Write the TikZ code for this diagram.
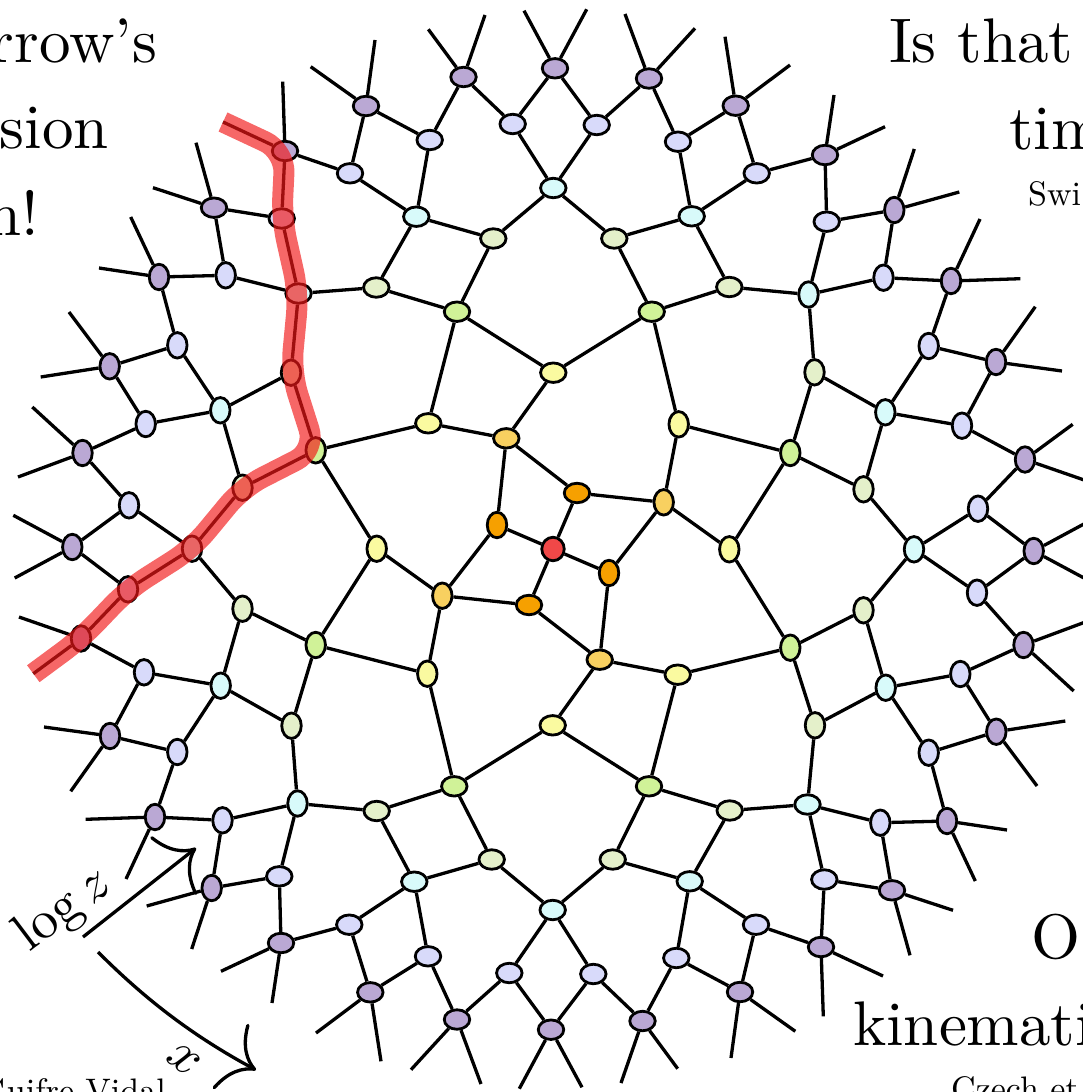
\documentclass[tikz,border=0pt]{standalone}
\usepackage{graphicx}
\usetikzlibrary{shapes.geometric,backgrounds,arrows.meta}
\definecolor{cRe}{RGB}{240,72,72}
\definecolor{cOr}{RGB}{246,160,0}
\definecolor{cGo}{RGB}{248,208,96}
\definecolor{cYe}{RGB}{250,250,160}
\definecolor{cGr}{RGB}{208,242,152}
\definecolor{cPa}{RGB}{228,240,202}
\definecolor{cCy}{RGB}{216,250,250}
\definecolor{cLa}{RGB}{216,218,250}
\definecolor{cPu}{RGB}{186,168,212}
\definecolor{hlred}{RGB}{242,24,24}
\newcommand\bigtxt[1]{\scalebox{6.3}{\fontsize{10}{12}\selectfont #1}}
\newcommand\smalltxt[1]{\scalebox{3.4}{\fontsize{10}{12}\selectfont #1}}
\newcommand\labtxt[1]{\scalebox{5.4}{\fontsize{10}{12}\selectfont #1}}
\begin{document}
\begin{tikzpicture}[x=1pt,y=-1pt,
  tn/.style={ellipse, draw=black, line width=2.8pt, minimum width=25.5pt, minimum height=19.5pt, inner sep=0pt},
  edge/.style={line width=3.3pt, black},
  hl/.style={line width=21pt, draw=hlred, draw opacity=0.66, line join=round, rounded corners=22pt},
  arr/.style={line width=3.3pt, -{Computer Modern Rightarrow[length=30pt,width=74pt]}},
  txt/.style={inner sep=0pt}]
\useasboundingbox (0,0) rectangle (1082,1092);
\clip (0,0) rectangle (1082,1092);

\def\nodelist{O/24/-56/cOr, G/-46.7/-110.7/cGo, YA/0.3/-176.3/cYe, YD/-124.7/-125.7/cYe,
 ga/-176.7/-261.5/cPa, gb/-96/-237.3/cGr, gc/-59.7/-310.5/cPa, gd/61.3/-310.5/cPa, ge/98.7/-237.3/cGr, gf/176.3/-262/cPa,
 cll/-254.5/-255.5/cCy, cl/-136.7/-332.3/cCy, ct/0.3/-361/cCy, cr/138.7/-332.7/cCy,
 La/-271.3/-330.5/cLa, Lb/-203/-375.7/cLa, Lc/-123.3/-409/cLa, Ld/-40.3/-425/cLa, Le/43.7/-424/cLa, Lf/125/-407.3/cLa, Lg/203.7/-375.7/cLa, Lh/273.7/-327.3/cLa,
 Pa/-339/-341.3/cPu, Pb/-268/-398/cPu, Pc/-187/-443/cPu, Pd/-89.5/-472/cPu, Pe/2/-480.7/cPu, Pf/96/-470.5/cPu, Pg/182.7/-443.3/cPu, Ph/272/-394/cPu}

\def\edgelist{O/G/0, O/G/1, G/YA/0, G/YD/0, YA/gb/0, YA/ge/0, YD/gb/0, YD/ge/3,
 gb/ga/0, gb/gc/0, ge/gd/0, ge/gf/0, ga/cll/0, ga/cl/0, gc/cl/0, gc/ct/0, gd/ct/0, gd/cr/0, gf/cr/0, gf/cll/1,
 ct/Ld/0, ct/Le/0, cl/Lc/0, cl/Lb/0, cr/Lf/0, cr/Lg/0, cll/La/0, cll/Lh/3,
 Ld/Pd/0, Ld/Pe/0, Le/Pe/0, Le/Pf/0, Lc/Pd/0, Lc/Pc/0, Lb/Pc/0, Lb/Pb/0, Lf/Pf/0, Lf/Pg/0, Lg/Pg/0, Lg/Ph/0, Lh/Ph/0, Lh/Pa/1, La/Pb/0, La/Pa/0}

\def\leglist{Pa/-339/-341.3/-18/-65/-61/-20, Pb/-268/-398/-62/-29/-2.3/-69.3, Pc/-187/-443/-55.3/-39.3/9/-66,
 Pd/-89.5/-472/-35.2/-47.7/21.5/-62, Pe/2/-480.7/-31/-57.6/31.7/-59, Pf/96/-470.5/-24/-64.5/46/-50.2,
 Pg/182.7/-443.3/-10.7/-69/54.3/-40.7, Ph/272/-394/9/-60/60/-28.3}

% nodes
\node[tn, fill=cRe, minimum width=22.5pt, minimum height=23.5pt] (C) at (553,549) {};
\foreach \k in {0,...,3}{
  \pgfmathsetmacro\cs{cos(90*\k)}
  \pgfmathsetmacro\sn{sin(90*\k)}
  \foreach \n/\dx/\dy/\col in \nodelist {
    \node[tn, fill=\col, rotate=90*\k] (\n\k) at ({553+(\dx)*\cs-(\dy)*\sn},{549+(\dx)*\sn+(\dy)*\cs}) {};
  }
}

% connectors and legs
\begin{scope}[on background layer]
\foreach \k in {0,...,3}{
  \pgfmathsetmacro\cs{cos(90*\k)}
  \pgfmathsetmacro\sn{sin(90*\k)}
  \draw[edge] (C) -- (O\k);
  \foreach \a/\b/\o in \edgelist {
    \pgfmathtruncatemacro\kb{mod(\k+\o,4)}
    \draw[edge] (\a\k) -- (\b\kb);
  }
  \foreach \p/\px/\py/\ax/\ay/\bx/\by in \leglist {
    \coordinate (\p\k-a) at ({553+((\px)+(\ax))*\cs-((\py)+(\ay))*\sn},{549+((\px)+(\ax))*\sn+((\py)+(\ay))*\cs});
    \coordinate (\p\k-b) at ({553+((\px)+(\bx))*\cs-((\py)+(\by))*\sn},{549+((\px)+(\bx))*\sn+((\py)+(\by))*\cs});
    \draw[edge] (\p\k) -- (\p\k-a);
    \draw[edge] (\p\k) -- (\p\k-b);
  }
}
\end{scope}

% highlighted path
\draw[hl] (Pb0-a) -- (Pb0.center) -- (La0.center) -- (cll0.center) -- (gf3.center) -- (ge3.center)
  -- (gd3.center) -- (ct3.center) -- (Ld3.center) -- (Pd3.center) -- (Pd3-a);

% arrows
\coordinate (zs) at (83,937);
\coordinate (ze) at (196,848);
\coordinate (xs) at (98,952);
\coordinate (xc1) at (148,1002);
\coordinate (xc2) at (195,1037);
\coordinate (xe) at (256,1070);
\draw[arr] (zs) -- (ze);
\draw[arr] (xs) .. controls (xc1) and (xc2) .. (xe);
\node[txt, rotate=37] (lz) at (64,910) {\labtxt{$\log z$}};
\node[txt, rotate=-38] (lx) at (184,1060) {\labtxt{$x$}};

% texts
\node[txt, anchor=base east] (t1) at (157,62) {\bigtxt{rrow’s}};
\node[txt, anchor=base east] (t2) at (109,148) {\bigtxt{sion}};
\node[txt, anchor=base east] (t3) at (39,235) {\bigtxt{n!}};
\node[txt, anchor=base west] (t4) at (889,62) {\bigtxt{Is that}};
\node[txt, anchor=base west] (t5) at (1009,149) {\bigtxt{tim}};
\node[txt, anchor=base west] (t6) at (1028,205) {\smalltxt{Swi}};
\node[txt, anchor=base west] (t7) at (1031.5,958) {\bigtxt{O}};
\node[txt, anchor=base west] (t8) at (853,1045) {\bigtxt{kinemati}};
\node[txt, anchor=base west] (t9) at (951,1100) {\smalltxt{Czech et}};
\node[txt, anchor=base east] (t10) at (166,1102) {\smalltxt{Guifre Vidal}};
\end{tikzpicture}
\end{document}
